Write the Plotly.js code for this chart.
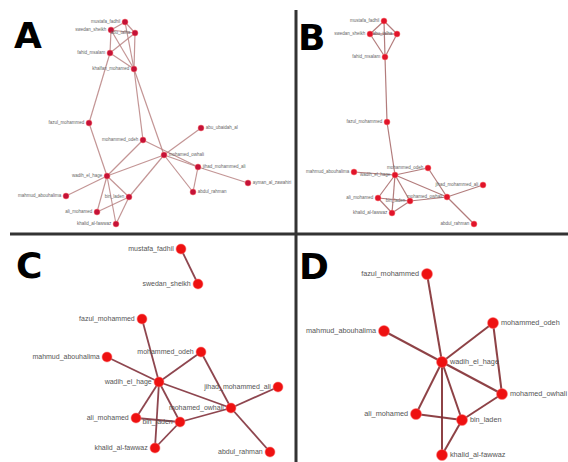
<!DOCTYPE html>
<html>
<head>
<meta charset="utf-8">
<script src="https://cdn.plot.ly/plotly-3.0.1.min.js"></script>
<style>html,body{margin:0;padding:0;background:#fff;}#chart{width:568px;height:462px;}</style>
</head>
<body>
<div id="chart"></div>
<script>
// ---------- Panel A ----------
const labelsA = ["mustafa_fadhil","swedan_sheikh","abu_talha","fahid_msalam","khalfan_mohamed",
  "fazul_mohammed","mohammed_odeh","abu_ubaidah_al","mohamed_owhali","jihad_mohammed_ali",
  "ayman_al_zawahiri","wadih_el_hage","bin_laden","abdul_rahman","mahmud_abouhalima","ali_mohamed","khalid_al-fawwaz"];
const xA = [125,111,135,110,134, 89,143,201,164,198,248,107,129,193,66,97,116];
const yA = [22,30,33,53,69, 123,140,128,155,167,183,176,197,192,196,212,224];
const edgesA = [[0,1],[0,2],[1,2],[1,3],[1,4],[2,4],[3,4],[2,3],[0,4],
  [3,5],[5,11],[4,6],[4,8],[8,13],[8,7],[8,9],[9,10],[6,9],[9,13],
  [6,11],[8,11],[11,14],[11,15],[11,16],[11,12],[8,12],[12,15],[12,16]];
const sideA = ["L","L","L","L","L","L","L","R","R","R","R","L","L","R","L","L","L"];

// ---------- Panel B ----------
const labelsB = ["mustafa_fadhil","swedan_sheikh","abu_talha","fahid_msalam","fazul_mohammed",
  "mahmud_abouhalima","wadih_el_hage","mohammed_odeh","jihad_mohammed_ali","ali_mohamed",
  "bin_laden","mohamed_owhali","khalid_al-fawwaz","abdul_rahman"];
const xB = [384,370,397,385,387,354,395,428,483,378,410,447,392,474];
const yB = [21,34,34,57,122,172,175,168,185,198,201,197,213,224];
const edgesB = [[0,1],[0,2],[1,2],[1,3],[2,3],[0,3],[3,4],[4,6],[5,6],[6,7],[6,9],[6,10],
  [6,12],[6,11],[9,10],[10,11],[11,8],[7,11],[11,13],[9,12],[12,10]];
const sideB = ["L","L","L","L","L","L","L","L","L","L","L","L","L","L"];

// ---------- Panel C ----------
const labelsC = ["mustafa_fadhil","swedan_sheikh","fazul_mohammed","mahmud_abouhalima","mohammed_odeh",
  "wadih_el_hage","jihad_mohammed_ali","mohamed_owhali","ali_mohamed","bin_laden","khalid_al-fawwaz","abdul_rahman"];
const xC = [181,198,142,107,201,159,278,231,136,180,155,270];
const yC = [249,284,319,357,352,382,387,408,418,422,448,452];
const edgesC = [[0,1],[5,2],[5,3],[5,4],[5,7],[5,8],[5,9],[5,10],[4,7],[7,11],[7,6],[9,7],[8,9],[10,9]];
const sideC = ["L","L","L","L","L","L","L","L","L","L","L","L"];

// ---------- Panel D ----------
const labelsD = ["fazul_mohammed","mahmud_abouhalima","mohammed_odeh","wadih_el_hage",
  "mohamed_owhali","ali_mohamed","bin_laden","khalid_al-fawwaz"];
const xD = [427,384,493,442,502,416,462,442];
const yD = [274,331,323,362,394,414,420,455];
const edgesD = [[3,0],[3,1],[3,2],[3,4],[3,5],[3,6],[3,7],[2,4],[4,6],[5,6],[6,7]];
const sideD = ["L","L","R","R","R","L","R","R"];

const panelLetters = ["A","B","C","D"];
const letterX = [28,311,29,314];
const letterY = [35,37,265,266];

function edgeTrace(xs, ys, edges, color, width){
  const ex=[], ey=[];
  edges.forEach(([a,b])=>{ ex.push(xs[a],xs[b],null); ey.push(ys[a],ys[b],null); });
  return {x:ex,y:ey,mode:'lines',type:'scatter',line:{color:color,width:width},hoverinfo:'skip',showlegend:false};
}
function nodeTrace(xs, ys, labels, sides, color, size, fsize, fcolor){
  return {x:xs,y:ys,mode:'markers+text',type:'scatter',text:labels,
    textposition:sides.map(s=>s==='L'?'middle left':'middle right'),
    textfont:{family:'Liberation Sans Narrow, Liberation Sans, Arial',size:fsize,color:fcolor},
    marker:{color:color,size:size,line:{color:'rgba(255,120,120,0.5)',width:1}},
    hoverinfo:'text',showlegend:false};
}

const data = [
  edgeTrace(xA,yA,edgesA,'rgba(185,130,130,0.85)',1.2),
  edgeTrace(xB,yB,edgesB,'rgba(170,110,110,0.9)',1.2),
  edgeTrace(xC,yC,edgesC,'rgba(130,50,60,0.9)',1.8),
  edgeTrace(xD,yD,edgesD,'rgba(130,45,50,0.9)',2),
  nodeTrace(xA,yA,labelsA,sideA,'#c41237',6,4.5,'#666'),
  nodeTrace(xB,yB,labelsB,sideB,'#e0142a',6,4.5,'#666'),
  nodeTrace(xC,yC,labelsC,sideC,'#ee1111',10,7,'#555'),
  nodeTrace(xD,yD,labelsD,sideD,'#ee1111',11,7.3,'#555')
];

const annotations = panelLetters.map((t,i)=>({x:letterX[i],y:letterY[i],xref:'x',yref:'y',text:'<b>'+t+'</b>',
  showarrow:false,font:{family:'DejaVu Sans',size:36,color:'#000'}}));

const layout = {
  width:568,height:462,margin:{l:0,r:0,t:0,b:0},
  paper_bgcolor:'#fff',plot_bgcolor:'#fff',
  xaxis:{range:[0,568],visible:false,fixedrange:true},
  yaxis:{range:[462,0],visible:false,fixedrange:true},
  showlegend:false,
  annotations:annotations,
  shapes:[
    {type:'line',xref:'x',yref:'y',x0:296,x1:296,y0:10,y1:462,line:{color:'#333',width:3}},
    {type:'line',xref:'x',yref:'y',x0:10,x1:568,y0:234,y1:234,line:{color:'#333',width:3}}
  ]
};
Plotly.newPlot('chart',data,layout,{staticPlot:true,displayModeBar:false});
</script>
</body>
</html>
